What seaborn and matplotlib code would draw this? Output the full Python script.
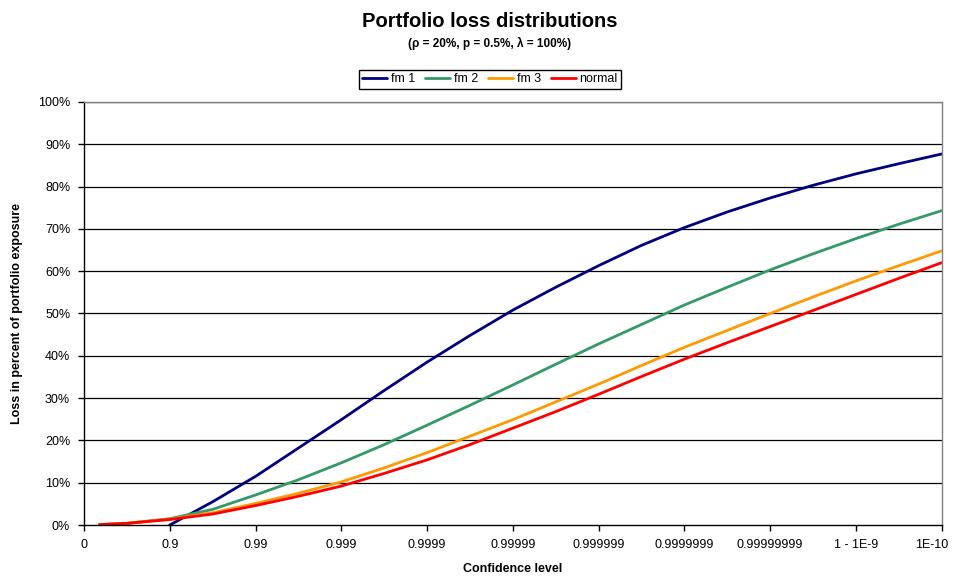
import numpy as np
import pandas as pd
import seaborn as sns
import matplotlib.pyplot as plt
from matplotlib.ticker import FuncFormatter
from matplotlib.transforms import ScaledTranslation

sns.set_style("white")
plt.rcParams["font.family"] = ["Liberation Sans", "DejaVu Sans"]
plt.rcParams["text.color"] = "black"
plt.rcParams["axes.labelcolor"] = "black"
plt.rcParams["xtick.color"] = "black"
plt.rcParams["ytick.color"] = "black"

# x positions: tick index on the confidence-level axis (0 ... 10)
tick_labels = ["0", "0.9", "0.99", "0.999", "0.9999", "0.99999", "0.999999",
               "0.9999999", "0.99999999", "1 - 1E-9", "1E-10"]

pos_full = [0.18, 0.5, 1, 1.5, 2, 2.5, 3, 3.5, 4, 4.5, 5, 5.5, 6, 6.5, 7,
            7.5, 8, 8.5, 9, 9.5, 10]
pos_fm1 = [1, 1.5, 2, 2.5, 3, 3.5, 4, 4.5, 5, 5.5, 6, 6.5, 7, 7.5, 8, 8.5,
           9, 9.5, 10]

# losses in percent of portfolio exposure
fm1 = [0.0, 5.5, 11.5, 18.2, 24.9, 31.8, 38.5, 44.8, 50.8, 56.2, 61.3, 66.1,
       70.3, 74.0, 77.3, 80.3, 83.0, 85.4, 87.7]
fm2 = [0.1, 0.4, 1.5, 3.7, 7.1, 10.7, 14.7, 19.0, 23.6, 28.3, 33.1, 38.0,
       42.8, 47.4, 52.0, 56.2, 60.3, 64.1, 67.7, 71.1, 74.3]
fm3 = [0.1, 0.4, 1.4, 2.9, 5.1, 7.5, 10.2, 13.5, 17.1, 21.0, 24.9, 29.1,
       33.3, 37.7, 42.0, 46.0, 50.0, 53.9, 57.7, 61.3, 64.8]
normal = [0.1, 0.4, 1.3, 2.6, 4.6, 6.8, 9.2, 12.2, 15.4, 19.0, 22.9, 26.8,
          30.9, 35.1, 39.2, 43.1, 46.9, 50.7, 54.5, 58.3, 62.0]

series_names = ["fm 1", "fm 2", "fm 3", "normal"]
colors = ["#000080", "#339966", "#FF9900", "#FF0000"]

frames = []
for name, xs, ys in zip(series_names, [pos_fm1, pos_full, pos_full, pos_full],
                        [fm1, fm2, fm3, normal]):
    frames.append(pd.DataFrame({"pos": xs, "loss": ys, "series": name}))
df = pd.concat(frames, ignore_index=True)

fig = plt.figure(figsize=(9.55, 5.76), dpi=100)
ax = fig.add_axes([0.088, 0.0885, 0.898, 0.7345])

for y in range(10, 101, 10):
    ax.axhline(y, color="black", linewidth=0.9, zorder=0)

sns.lineplot(data=df, x="pos", y="loss", hue="series", hue_order=series_names,
             palette=colors, linewidth=2.0, sort=False, estimator=None, ax=ax)

ax.set_xlim(0, 10)
ax.set_ylim(0, 100)
ax.set_xticks(np.arange(len(tick_labels)))
ax.set_xticklabels(tick_labels)
ax.set_yticks(np.arange(0, 101, 10))
ax.yaxis.set_major_formatter(FuncFormatter(lambda v, _: f"{v:.0f}%"))
ax.tick_params(axis="both", direction="out", length=4, width=1, color="black",
               labelsize=9, pad=6, left=True, bottom=True)

# last x label sits slightly left of its tick so it stays inside the figure
last = ax.get_xticklabels()[-1]
last.set_transform(last.get_transform() + ScaledTranslation(-7 / 72, 0, fig.dpi_scale_trans))

for side in ["left", "bottom"]:
    ax.spines[side].set_color("black")
    ax.spines[side].set_linewidth(1)
for side in ["right", "top"]:
    ax.spines[side].set_color("#808080")
    ax.spines[side].set_linewidth(1)

ax.set_xlabel("Confidence level", fontsize=9, fontweight="bold", labelpad=9)
ax.set_ylabel("Loss in percent of portfolio exposure", fontsize=9,
              fontweight="bold", labelpad=11)

handles, labels = ax.get_legend_handles_labels()
ax.legend(handles, labels, loc="upper center", bbox_to_anchor=(0.513, 0.878),
          bbox_transform=fig.transFigure, ncol=4, fontsize=9, frameon=True,
          fancybox=False, edgecolor="black", framealpha=1, borderpad=0.25,
          handlelength=2.0, handletextpad=0.3, columnspacing=0.8,
          borderaxespad=0)

fig.text(0.513, 0.963, "Portfolio loss distributions", ha="center",
         va="center", fontsize=14.5, fontweight="bold")
fig.text(0.513, 0.924, "(\u03c1 = 20%, p = 0.5%, \u03bb = 100%)", ha="center",
         va="center", fontsize=8.5, fontweight="bold")

fig.savefig("out.png", dpi=100)
